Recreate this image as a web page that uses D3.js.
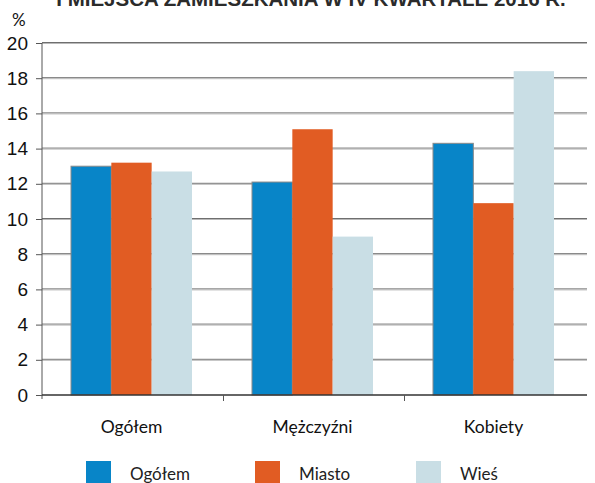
<!DOCTYPE html>
<html>
<head>
<meta charset="utf-8">
<script src="https://cdn.jsdelivr.net/npm/d3@7"></script>
<style>
  body { margin: 0; background: #fff; }
  svg { display: block; font-family: Lato, "Open Sans", sans-serif; }
</style>
</head>
<body>
<div id="chart"></div>
<script>
// data
const categories = ["Ogółem", "Mężczyźni", "Kobiety"];
const seriesNames = ["Ogółem", "Miasto", "Wieś"];
const seriesColors = ["#0885c8", "#e15c23", "#c9dee5"];
const valuesOgolem = [13.0, 12.1, 14.3];
const valuesMiasto = [13.2, 15.1, 10.9];
const valuesWies = [12.7, 9.0, 18.4];
const yTicks = [0, 2, 4, 6, 8, 10, 12, 14, 16, 18, 20];
const titleText = "I MIEJSCA ZAMIESZKANIA W IV KWARTALE 2016 R.";

const width = 595, height = 483;
const margin = {top: 43, right: 10, bottom: 88, left: 42};

const series = [valuesOgolem, valuesMiasto, valuesWies];

const svg = d3.select("#chart")
    .append("svg")
    .attr("width", width)
    .attr("height", height);

const x = d3.scaleBand()
    .domain(categories)
    .range([margin.left, width - margin.right])
    .padding(0);

const xInner = d3.scaleBand()
    .domain(seriesNames)
    .range([29, x.bandwidth() - 31])
    .padding(0);

const y = d3.scaleLinear()
    .domain([0, 20])
    .range([height - margin.bottom, margin.top]);

// clipped title at the top
svg.append("text")
    .attr("x", 311)
    .attr("y", 6)
    .attr("text-anchor", "middle")
    .style("font-family", "'Liberation Sans', Arial, sans-serif")
    .style("font-weight", "bold")
    .style("font-size", "20.5px")
    .attr("fill", "#2b2b2b")
    .text(titleText);

// gridlines
const grid = svg.append("g");
grid.selectAll("line.dark")
    .data(yTicks.filter(d => d > 0))
    .join("line")
    .attr("x1", margin.left)
    .attr("x2", width - 8)
    .attr("y1", d => y(d) - 0.5)
    .attr("y2", d => y(d) - 0.5)
    .attr("stroke", "#6f6f6f")
    .attr("stroke-width", 1);
grid.selectAll("line.light")
    .data(yTicks.filter(d => d > 0))
    .join("line")
    .attr("x1", margin.left)
    .attr("x2", width - 8)
    .attr("y1", d => y(d) + 0.5)
    .attr("y2", d => y(d) + 0.5)
    .attr("stroke", "#b9b9b9")
    .attr("stroke-width", 1);

// bars
const groups = svg.append("g")
    .selectAll("g")
    .data(categories)
    .join("g")
    .attr("transform", d => "translate(" + x(d) + ",0)");

groups.selectAll("rect")
    .data((c, ci) => seriesNames.map((s, si) => ({s: s, si: si, v: series[si][ci]})))
    .join("rect")
    .attr("x", d => xInner(d.s))
    .attr("y", d => y(d.v))
    .attr("width", xInner.bandwidth())
    .attr("height", d => y(0) - y(d.v))
    .attr("fill", d => seriesColors[d.si])
    .attr("stroke", d => d.si === 0 ? "#8a8a8a" : "none")
    .attr("stroke-width", 1);

// y axis
const yAxis = d3.axisLeft(y)
    .tickValues(yTicks)
    .tickSize(6)
    .tickPadding(8)
    .tickFormat(d3.format("d"));

const gy = svg.append("g")
    .attr("transform", "translate(" + margin.left + ",0)")
    .call(yAxis);
gy.select(".domain").attr("stroke", "#555").attr("d", "M0," + (y(20)) + "V" + (y(0) + 4));
gy.selectAll(".tick line").attr("stroke", "#555");
gy.selectAll(".tick text")
    .style("font-size", "19px")
    .attr("fill", "#111");

// x axis
const gx = svg.append("g")
    .attr("transform", "translate(0," + y(0) + ")");
gx.append("line")
    .attr("x1", margin.left)
    .attr("x2", width - 8)
    .attr("stroke", "#333")
    .attr("stroke-width", 1.5);
gx.selectAll("line.tick")
    .data(categories.slice(1))
    .join("line")
    .attr("class", "tick")
    .attr("x1", d => x(d) + 0.5)
    .attr("x2", d => x(d) + 0.5)
    .attr("y1", 0)
    .attr("y2", 6)
    .attr("stroke", "#555");
gx.selectAll("text")
    .data(categories)
    .join("text")
    .attr("x", d => x(d) + 29 + (x.bandwidth() - 60) / 2)
    .attr("y", 38)
    .attr("text-anchor", "middle")
    .style("font-size", "17.5px")
    .attr("fill", "#111")
    .text(d => d);

// unit label
svg.append("text")
    .attr("x", 12)
    .attr("y", 26)
    .style("font-size", "17px")
    .attr("fill", "#111")
    .text("%");

// legend
const legendX = [86, 255, 416];
const legend = svg.append("g")
    .selectAll("g")
    .data(seriesNames)
    .join("g")
    .attr("transform", (d, i) => "translate(" + legendX[i] + ",461)");
legend.append("rect")
    .attr("width", 25)
    .attr("height", 22)
    .attr("fill", (d, i) => seriesColors[i]);
legend.append("text")
    .attr("x", 44)
    .attr("y", 19)
    .style("font-size", "17px")
    .attr("fill", "#222")
    .text(d => d);
</script>
</body>
</html>
